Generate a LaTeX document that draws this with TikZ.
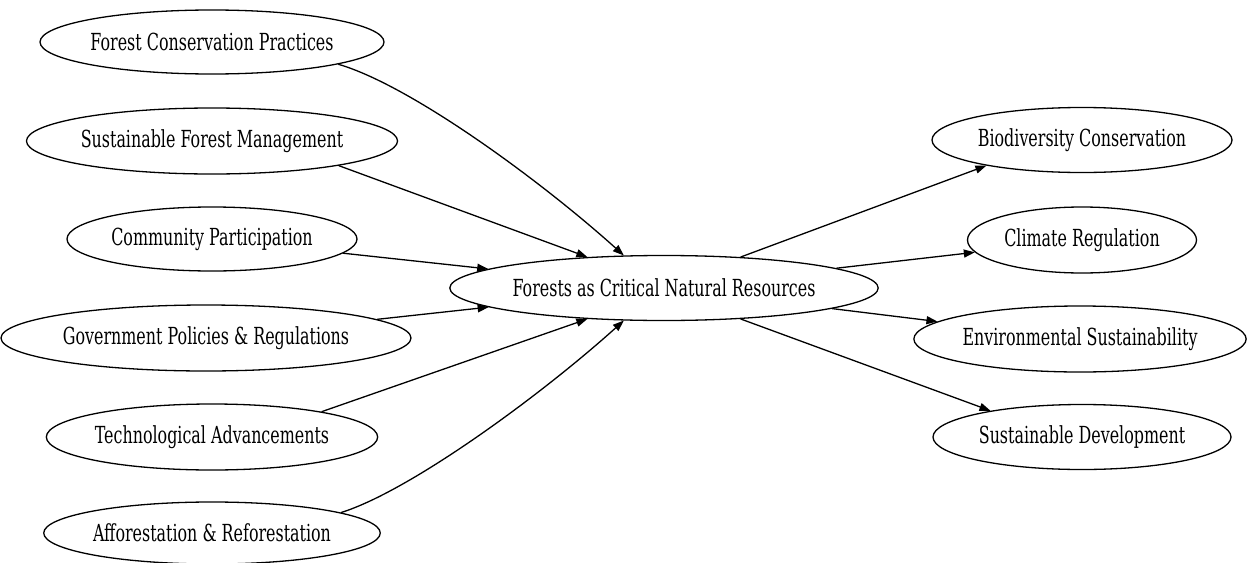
\documentclass[tikz,border=0pt]{standalone}
\usepackage{fontspec}
\setmainfont{DejaVu Serif}[FakeStretch=0.677]
\usetikzlibrary{shapes.geometric,arrows.meta}
\begin{document}
\begin{tikzpicture}[x=1pt,y=-1pt,
  box/.style={ellipse,draw,line width=1.3pt,inner sep=0pt,font=\fontsize{23.5}{26}\selectfont},
  link/.style={line width=1.3pt,-{Triangle[length=11pt,width=8pt]}}]
\useasboundingbox (0,0) rectangle (1247,562);
\node[box,minimum width=344pt,minimum height=64pt] (fcp) at (212,42) {Forest Conservation Practices};
\node[box,minimum width=368pt,minimum height=66pt] (sfm) at (212,141) {Sustainable Forest Management};
\node[box,minimum width=290pt,minimum height=64pt] (cp) at (212,239) {Community Participation};
\node[box,minimum width=410pt,minimum height=66pt] (gp) at (206,338) {Government Policies \& Regulations};
\node[box,minimum width=329pt,minimum height=66pt] (ta) at (212,437) {Technological Advancements};
\node[box,minimum width=336pt,minimum height=62pt] (ar) at (212,533) {Afforestation \& Reforestation};
\node[box,minimum width=422pt,minimum height=65pt] (c) at (664,288) {Forests as Critical Natural Resources};
\node[box,minimum width=300pt,minimum height=65pt] (bio) at (1082,140) {Biodiversity Conservation};
\node[box,minimum width=229pt,minimum height=66pt] (cr) at (1082,240) {Climate Regulation};
\node[box,minimum width=332pt,minimum height=66pt] (es) at (1080,339) {Environmental Sustainability};
\node[box,minimum width=298pt,minimum height=65pt] (sd) at (1082,437) {Sustainable Development};
\draw[link] (fcp.-10) .. controls (410,85) and (540,180) .. (c.141);
\draw[link] (sfm.-11.5) -- (c.158);
\draw[link] (cp) -- (c);
\draw[link] (gp) -- (c);
\draw[link] (ta.13) -- (c.-158);
\draw[link] (ar.9) .. controls (410,491) and (540,396) .. (c.-141);
\draw[link] (c.22.7) -- (bio.195.6);
\draw[link] (c) -- (cr);
\draw[link] (c) -- (es);
\draw[link] (c.-22.7) -- (sd.164.4);
\end{tikzpicture}
\end{document}
